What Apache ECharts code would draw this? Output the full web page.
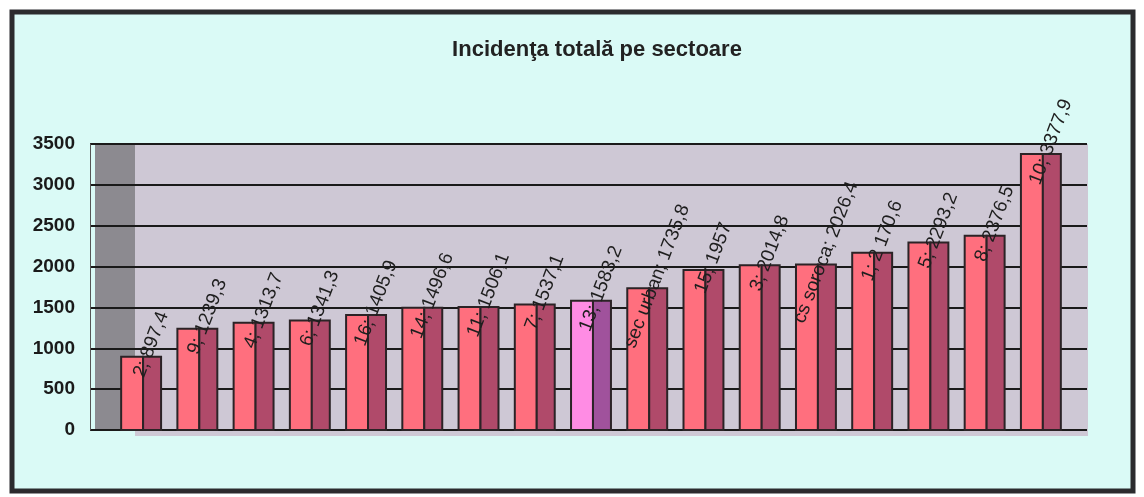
<!DOCTYPE html>
<html>
<head>
<meta charset="utf-8">
<script src="https://cdn.jsdelivr.net/npm/echarts@6/dist/echarts.min.js"></script>
<style>
    html, body {margin: 0; padding: 0; background: #fff;}
    #chart {width: 1144px; height: 497px;}
</style>
</head>
<body>
<div id="chart"></div>
<script>
    var sectors = ['2', '9', '4', '6', '16', '14', '11', '7', '13', 'sec urban', '15', '3', 'cs soroca', '1', '5', '8', '10'];
    var incidence = [897.4, 1239.3, 1313.7, 1341.3, 1405.9, 1496.6, 1506.1, 1537.1, 1583.2, 1735.8, 1957, 2014.8, 2026.4, 2170.6, 2293.2, 2376.5, 3377.9];
    var valueText = ['897,4', '1239,3', '1313,7', '1341,3', '1405,9', '1496,6', '1506,1', '1537,1', '1583,2', '1735,8', '1957', '2014,8', '2026,4', '2 170,6', '2293,2', '2376,5', '3377,9'];
    var highlight = '13';
    var font = 'Arial, "Liberation Sans", sans-serif';

    var chart = echarts.init(document.getElementById('chart'));

    // 3d-looking column: front face + darker side face, label rotated over the top
    function renderBar(params, api) {
        var i = api.value(0);
        var top = api.coord([i, api.value(1)]);
        var base = api.coord([i, 0]);
        var band = api.size([1, 0])[0];
        var fw = band * 0.39, sw = band * 0.32;
        var x0 = top[0] - (fw + sw) / 2;
        var h = base[1] - top[1];
        var hl = sectors[i] === highlight;
        return {
            type: 'group',
            children: [
                {type: 'rect', shape: {x: x0, y: top[1], width: fw, height: h},
                    style: {fill: hl ? '#FF8CE4' : '#FF6F7E', stroke: '#2b2326', lineWidth: 2}},
                {type: 'rect', shape: {x: x0 + fw, y: top[1], width: sw, height: h},
                    style: {fill: hl ? '#A0529C' : '#B04A6A', stroke: '#2b2326', lineWidth: 2}},
                {type: 'text', x: top[0] + 10, y: top[1] - 12, rotation: 69 * Math.PI / 180, z2: 10,
                    style: {text: sectors[i] + '; ' + valueText[i], fontSize: 19,
                        fontFamily: font, fill: '#1e1e1e',
                        align: 'center', verticalAlign: 'middle'}}
            ]
        };
    }

    var option = {
        backgroundColor: '#ffffff',
        animation: false,
        title: {
            text: 'Incidenţa totală pe sectoare',
            left: 592,
            top: 34,
            textAlign: 'center',
            textStyle: {fontSize: 22, fontWeight: 'bold', color: '#222', fontFamily: font}
        },
        graphic: {
            elements: [
                {type: 'rect', z: -10, shape: {x: 12, y: 12, width: 1121, height: 479},
                    style: {fill: '#DAFAF6', stroke: '#2b2b2e', lineWidth: 5}},
                {type: 'rect', z: -9, shape: {x: 135, y: 144, width: 953, height: 292},
                    style: {fill: '#CEC8D5'}},
                {type: 'rect', z: -9, shape: {x: 95, y: 144, width: 40, height: 286},
                    style: {fill: '#8C8A90'}}
            ]
        },
        grid: [
            {left: 90, right: 57, top: 144, bottom: 67},
            {left: 113, right: 75, top: 144, bottom: 67}
        ],
        xAxis: [
            {gridIndex: 0, type: 'category', data: sectors, show: false},
            {gridIndex: 1, type: 'category', data: sectors, show: false}
        ],
        yAxis: [
            {
                gridIndex: 0, type: 'value', min: 0, max: 3500, interval: 500,
                axisLine: {show: true, lineStyle: {color: '#555', width: 1}},
                axisTick: {show: false},
                axisLabel: {margin: 15, fontSize: 19, fontWeight: 'bold', color: '#1a1a1a',
                    fontFamily: font, formatter: function (v) { return String(v); }},
                splitLine: {show: true, lineStyle: {color: '#1a1a1a', width: 2}}
            },
            {gridIndex: 1, type: 'value', min: 0, max: 3500, interval: 500, show: false, splitLine: {show: false}}
        ],
        series: [
            {
                type: 'custom',
                xAxisIndex: 1,
                yAxisIndex: 1,
                renderItem: renderBar,
                data: incidence.map(function (v, i) { return [i, v]; })
            }
        ]
    };
    chart.setOption(option);
</script>
</body>
</html>
